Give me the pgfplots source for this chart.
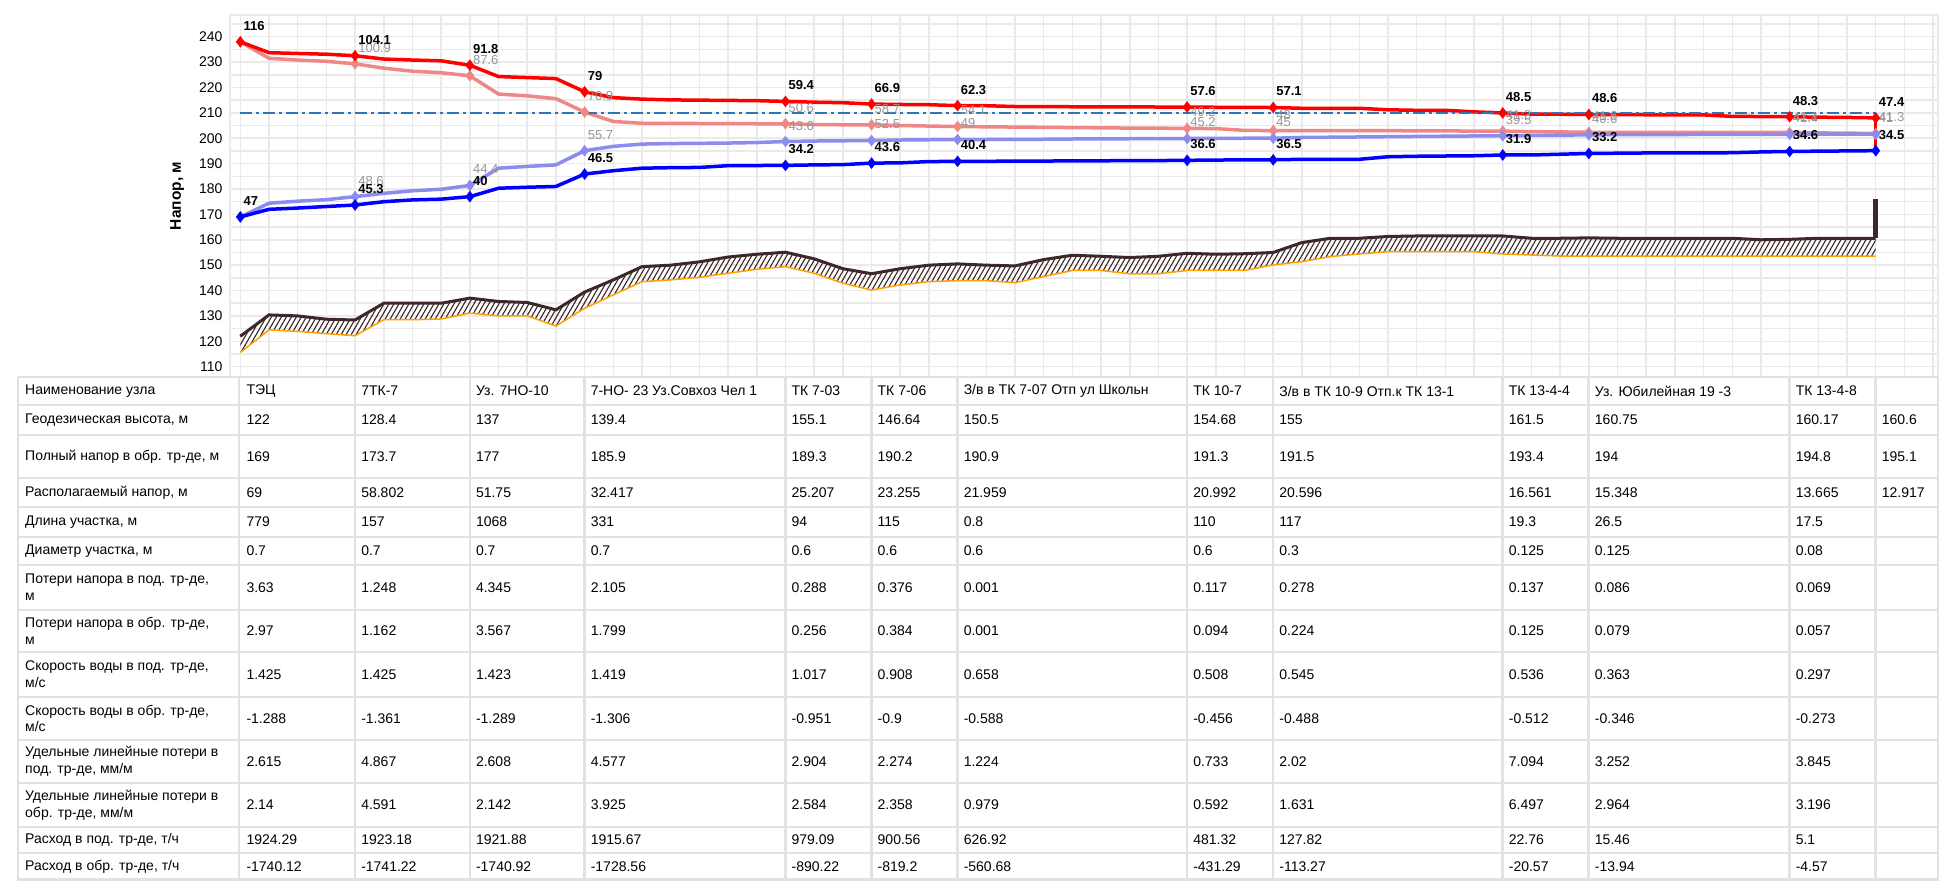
\documentclass[border=0pt]{standalone}
\usepackage{pgfplots}
\pgfplotsset{compat=1.18}
\usepackage{pgfplotstable}
\usepgfplotslibrary{fillbetween}
\usetikzlibrary{patterns}
\usepackage{fontspec}
\setmainfont{Liberation Sans}
\definecolor{redc}{RGB}{255,0,0}
\definecolor{pinkc}{RGB}{240,135,135}
\definecolor{bluec}{RGB}{0,0,255}
\definecolor{lbluec}{RGB}{140,140,240}
\definecolor{groundc}{RGB}{60,40,40}
\definecolor{orangec}{RGB}{255,160,0}
\definecolor{dashc}{RGB}{46,117,182}
\definecolor{gridc}{RGB}{234,234,234}
\definecolor{tgridc}{RGB}{226,226,226}
\definecolor{graylab}{RGB}{150,150,150}
\newcommand\tfont{\fontsize{14}{16.7}\selectfont}
\newcommand\lfont{\bfseries\fontsize{13}{14}\selectfont}
\newcommand\gfont{\fontsize{13}{14}\selectfont}
\pgfdeclarepatternformonly{hatchsix}{\pgfqpoint{-1pt}{-1pt}}{\pgfqpoint{6pt}{9.66pt}}{\pgfqpoint{5pt}{8.66pt}}{%
  \pgfsetlinewidth{1.1pt}%
  \pgfpathmoveto{\pgfqpoint{0pt}{0pt}}%
  \pgfpathlineto{\pgfqpoint{5.1pt}{8.83pt}}%
  \pgfusepath{stroke}}

\pgfplotstableread{
k red pink blue lblue ground orange
0 238 238 169 169 122 115.6
1 233.7 231.5 172.0 174.4 130.4 124.5
2 233.4 230.8 172.5 175.2 130.0 123.9
3 233.1 230.3 173.1 175.8 128.7 123.0
4 232.5 229.3 173.7 177.0 128.4 122.2
5 231.2 227.6 175.0 178.3 135.0 128.5
6 230.8 226.4 175.7 179.3 135.0 128.5
7 230.5 225.8 176.0 179.9 135.0 128.8
8 228.75 224.6 177.0 181.4 137.0 131.1
9 224.3 217.4 180.3 188.2 135.7 130.0
10 223.9 216.7 180.7 188.9 135.3 130.0
11 223.5 215.6 181.0 189.5 132.4 126.0
12 218.3 210.3 185.9 195.1 139.4 133.0
13 216.0 206.6 187.2 196.8 144.2 138.3
14 215.4 205.9 188.2 197.7 149.4 143.5
15 215.1 205.9 188.4 197.9 150.0 144.2
16 215.0 205.8 188.5 198.0 151.3 145.2
17 214.9 205.8 189.2 198.1 153.2 146.8
18 214.8 205.7 189.25 198.3 154.3 148.4
19 214.5 205.7 189.3 198.7 155.1 149.4
20 214.2 205.4 189.5 198.9 152.5 146.8
21 214.0 205.3 189.6 199.0 148.6 142.9
22 213.46 205.3 190.2 199.1 146.64 140.2
23 213.3 205.0 190.3 199.3 148.6 142.2
24 213.2 204.8 190.8 199.4 150.0 143.5
25 212.86 204.6 190.9 199.5 150.5 143.9
26 212.8 204.5 190.9 199.5 150.0 143.9
27 212.5 204.4 191.0 199.6 149.7 143.1
28 212.45 204.3 191.0 199.6 152.2 145.5
29 212.4 204.2 191.1 199.7 153.9 147.9
30 212.4 204.1 191.1 199.7 153.5 147.9
31 212.35 204.0 191.2 199.8 153.0 146.6
32 212.3 203.95 191.2 199.8 153.5 146.6
33 212.29 203.9 191.3 199.9 154.68 147.9
34 212.2 203.8 191.4 199.9 154.3 147.9
35 212.15 203.1 191.5 200.0 154.5 147.9
36 212.1 203.0 191.5 200.0 155.0 150.1
37 211.8 203.0 191.7 200.3 158.9 151.4
38 211.8 203.0 191.7 200.4 160.6 153.4
39 211.8 203.0 191.7 200.5 160.6 154.4
40 211.2 203.0 192.7 200.6 161.3 155.3
41 211.0 202.9 192.9 200.7 161.5 155.3
42 211.0 202.9 193.0 200.8 161.5 155.3
43 210.4 202.8 193.1 200.9 161.5 155.3
44 209.96 202.8 193.4 201.0 161.5 154.4
45 209.5 202.6 193.4 201.1 160.6 154.0
46 209.45 202.5 193.7 201.2 160.6 153.6
47 209.35 202.35 194.0 201.35 160.75 153.6
48 209.3 202.3 194.1 201.4 160.6 153.6
49 209.25 202.3 194.2 201.4 160.6 153.6
50 209.2 202.3 194.2 201.45 160.6 153.6
51 209.2 202.3 194.2 201.5 160.6 153.6
52 208.6 202.3 194.3 201.5 160.6 153.6
53 208.55 202.3 194.6 201.55 160.0 153.6
54 208.47 202.27 194.8 201.57 160.17 153.6
55 208.3 202.1 194.9 201.6 160.6 153.6
56 208.2 202.0 195.0 201.6 160.6 153.6
57 208.02 201.9 195.1 201.6 160.6 153.6
}\prof

\pgfplotstableread{
k y lab
0 238 116
4 232.5 104.1
8 228.75 91.8
12 218.3 79
19 214.5 59.4
22 213.46 66.9
25 212.86 62.3
33 212.29 57.6
36 212.1 57.1
44 209.96 48.5
47 209.35 48.6
54 208.47 48.3
57 208.02 47.4
}\rednodes

\pgfplotstableread{
k y lab
0 169 47
4 173.7 45.3
8 177 40
12 185.9 46.5
19 189.3 34.2
22 190.2 43.6
25 190.9 40.4
33 191.3 36.6
36 191.5 36.5
44 193.4 31.9
47 194 33.2
54 194.8 34.6
57 195.1 34.5
}\bluenodes

\pgfplotstableread{
k y lab
4 229.3 100.9
8 224.6 87.6
12 210.3 70.9
19 205.7 50.6
22 205.3 58.7
25 204.6 54.1
33 203.9 49.2
36 203.0 48
44 202.8 41.3
47 202.35 41.6
54 202.27 42.1
57 201.9 41.3
}\pinknodes

\pgfplotstableread{
k y lab
4 177 48.6
8 181.4 44.4
12 195.1 55.7
19 198.7 43.6
22 199.1 52.5
25 199.5 49
33 199.9 45.2
36 200 45
44 201 39.5
47 201.35 40.6
54 201.57 41.4
57 201.6 41
}\lbluenodes

\def\cx{{240.3,355.06,469.82,584.58,785.41,871.48,957.55,1187.07,1273.14,1502.66,1588.73,1789.56,1875.63}}
\newcommand\trow[3]{%
  \node[anchor=west,align=left,font=\tfont,inner sep=0pt] at (25,-#1) {#2};
  \foreach \v [count=\i from 0] in {#3} {%
    \pgfmathsetmacro\xx{\cx[\i]}%
    \node[anchor=west,font=\tfont,inner sep=0pt] at (\xx+6,-#1) {\v};
  }%
}

\begin{document}
\begin{tikzpicture}[x=1pt,y=1pt]
\path (0,0) rectangle (1952,-881);
\begin{axis}[
  at={(230pt,-377pt)}, anchor=south west,
  width=1708pt, height=362pt, scale only axis,
  xmin=-0.36, xmax=59.17, ymin=105.94, ymax=248.55,
  xtick={0,...,59}, xticklabels={},
  ytick={110,120,...,240}, minor ytick={105,115,...,245},
  grid=both,
  major grid style={gridc, line width=1.5pt},
  minor grid style={gridc, line width=1.5pt},
  major tick length=0pt, minor tick length=0pt,
  axis line style={gridc, line width=1.5pt},
  yticklabel style={font=\fontsize{14}{15}\selectfont, xshift=-4pt},
  /pgf/number format/assume math mode=true,
  ylabel={Напор, м},
  every axis y label/.style={at={(axis description cs:-0.031,0.5)}, rotate=90, anchor=center, font=\bfseries\fontsize{15.5}{16}\selectfont},
]
\addplot[draw=none, name path=G] table[x=k,y=ground]{\prof};
\addplot[draw=none, name path=O] table[x=k,y=orange]{\prof};
\addplot[pattern=hatchsix, pattern color=groundc, draw=none] fill between[of=G and O];
\addplot[orangec, line width=1.5pt] table[x=k,y=orange]{\prof};
\addplot[groundc, line width=3pt] table[x=k,y=ground]{\prof};
\addplot[groundc, line width=5pt] coordinates {(57,160.6) (57,176)};
\addplot[pinkc, line width=3.5pt] table[x=k,y=pink]{\prof};
\addplot[lbluec, line width=3.5pt] table[x=k,y=lblue]{\prof};
\addplot[redc, line width=3.5pt] table[x=k,y=red]{\prof};
\addplot[redc, line width=3pt] coordinates {(57,208.02) (57,195.1)};
\addplot[bluec, line width=3.5pt] table[x=k,y=blue]{\prof};
\addplot[dashc, line width=2pt, dash pattern=on 12pt off 4pt on 3pt off 4pt] coordinates {(0,210) (57,210)};
\addplot[only marks, mark=diamond*, mark size=5.5pt, color=pinkc, nodes near coords, point meta=explicit symbolic,
  every node near coord/.style={anchor=west, yshift=16pt, xshift=2pt, inner sep=1pt, font=\gfont, text=graylab}]
  table[x=k,y=y,meta=lab]{\pinknodes};
\addplot[only marks, mark=diamond*, mark size=5.5pt, color=lbluec, nodes near coords, point meta=explicit symbolic,
  every node near coord/.style={anchor=west, yshift=16pt, xshift=2pt, inner sep=1pt, font=\gfont, text=graylab}]
  table[x=k,y=y,meta=lab]{\lbluenodes};
\addplot[only marks, mark=diamond*, mark size=5.5pt, color=redc, nodes near coords, point meta=explicit symbolic,
  every node near coord/.style={anchor=west, yshift=16pt, xshift=2pt, inner sep=1pt, font=\lfont, text=black}]
  table[x=k,y=y,meta=lab]{\rednodes};
\addplot[only marks, mark=diamond*, mark size=5.5pt, color=bluec, nodes near coords, point meta=explicit symbolic,
  every node near coord/.style={anchor=west, yshift=16pt, xshift=2pt, inner sep=1pt, font=\lfont, text=black}]
  table[x=k,y=y,meta=lab]{\bluenodes};
\end{axis}
% table
\foreach \yy in {377,405,435,478,507,537,565,610,652,697,740,783,827,853,879.7}
  \draw[tgridc, line width=2.5pt] (18,-\yy) -- (1938,-\yy);
\foreach \xx in {18,239,355.06,469.82,584.58,785.41,871.48,957.55,1187.07,1273.14,1502.66,1588.73,1789.56,1875.63,1938}
  \draw[tgridc, line width=2.5pt] (\xx,-377) -- (\xx,-881);
\trow{391}{Наименование узла}{ТЭЦ,7ТК-7,Уз. 7НО-10,7-НО- 23 Уз.Совхоз Чел 1,ТК 7-03,ТК 7-06,З/в в ТК 7-07 Отп ул Школьн,ТК 10-7,З/в в ТК 10-9 Отп.к ТК 13-1,ТК 13-4-4,Уз. Юбилейная 19 -3,ТК 13-4-8}
\trow{420}{Геодезическая высота, м}{122,128.4,137,139.4,155.1,146.64,150.5,154.68,155,161.5,160.75,160.17,160.6}
\trow{456.5}{Полный напор в обр. тр-де, м}{169,173.7,177,185.9,189.3,190.2,190.9,191.3,191.5,193.4,194,194.8,195.1}
\trow{492.5}{Располагаемый напор, м}{69,58.802,51.75,32.417,25.207,23.255,21.959,20.992,20.596,16.561,15.348,13.665,12.917}
\trow{522}{Длина участка, м}{779,157,1068,331,94,115,0.8,110,117,19.3,26.5,17.5}
\trow{551}{Диаметр участка, м}{0.7,0.7,0.7,0.7,0.6,0.6,0.6,0.6,0.3,0.125,0.125,0.08}
\trow{587.5}{Потери напора в под. тр-де,\\м}{3.63,1.248,4.345,2.105,0.288,0.376,0.001,0.117,0.278,0.137,0.086,0.069}
\trow{631}{Потери напора в обр. тр-де,\\м}{2.97,1.162,3.567,1.799,0.256,0.384,0.001,0.094,0.224,0.125,0.079,0.057}
\trow{674.5}{Скорость воды в под. тр-де,\\м/с}{1.425,1.425,1.423,1.419,1.017,0.908,0.658,0.508,0.545,0.536,0.363,0.297}
\trow{718.5}{Скорость воды в обр. тр-де,\\м/с}{-1.288,-1.361,-1.289,-1.306,-0.951,-0.9,-0.588,-0.456,-0.488,-0.512,-0.346,-0.273}
\trow{761.5}{Удельные линейные потери в\\под. тр-де, мм/м}{2.615,4.867,2.608,4.577,2.904,2.274,1.224,0.733,2.02,7.094,3.252,3.845}
\trow{805}{Удельные линейные потери в\\обр. тр-де, мм/м}{2.14,4.591,2.142,3.925,2.584,2.358,0.979,0.592,1.631,6.497,2.964,3.196}
\trow{840}{Расход в под. тр-де, т/ч}{1924.29,1923.18,1921.88,1915.67,979.09,900.56,626.92,481.32,127.82,22.76,15.46,5.1}
\trow{867}{Расход в обр. тр-де, т/ч}{-1740.12,-1741.22,-1740.92,-1728.56,-890.22,-819.2,-560.68,-431.29,-113.27,-20.57,-13.94,-4.57}
\end{tikzpicture}
\end{document}
